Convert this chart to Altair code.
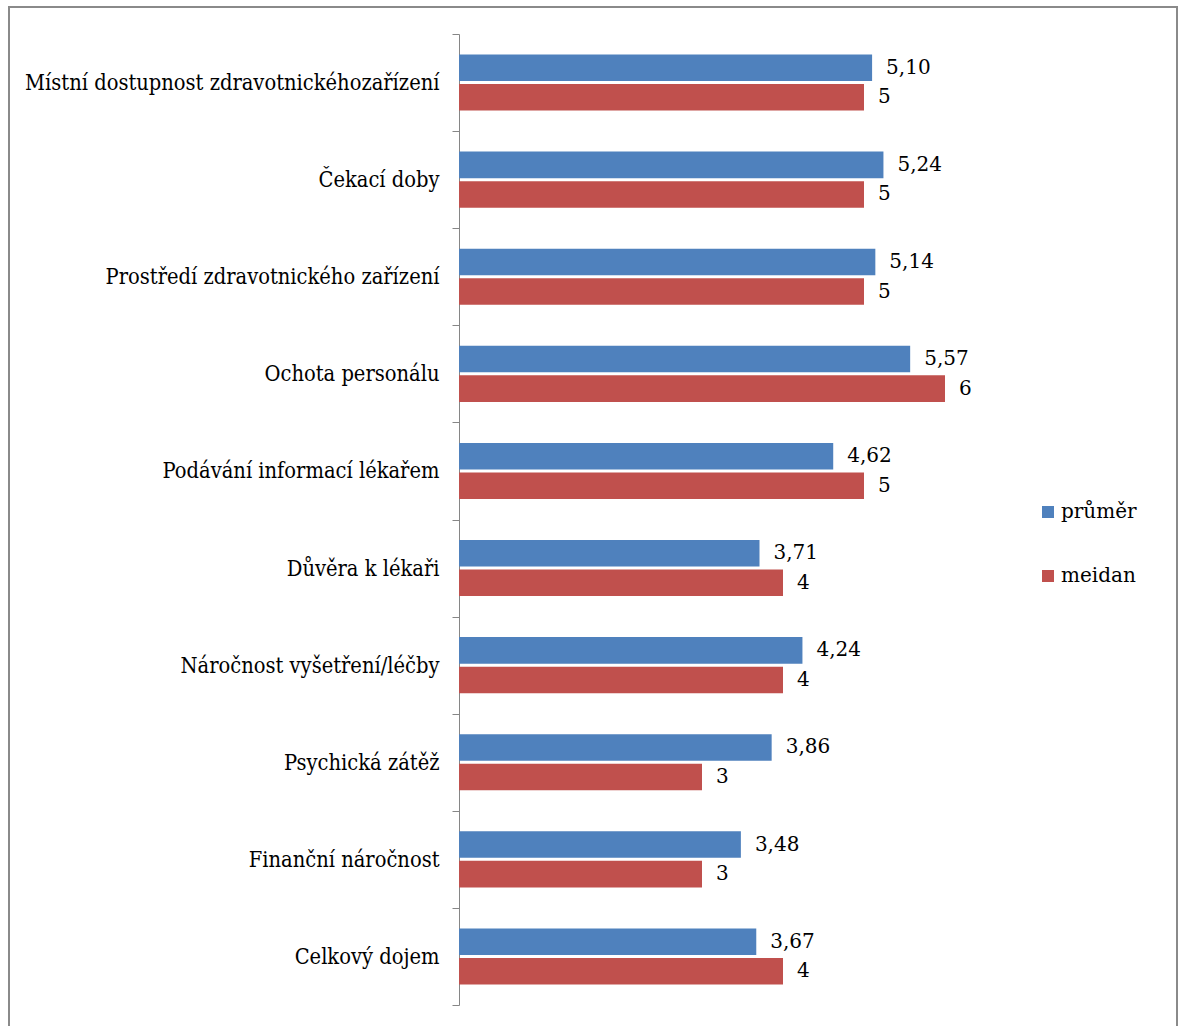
import altair as alt
import pandas as pd

categories = [
    "Místní dostupnost zdravotnickéhozařízení",
    "Čekací doby",
    "Prostředí zdravotnického zařízení",
    "Ochota personálu",
    "Podávání informací lékařem",
    "Důvěra k lékaři",
    "Náročnost vyšetření/léčby",
    "Psychická zátěž",
    "Finanční náročnost",
    "Celkový dojem",
]
prumer = [5.10, 5.24, 5.14, 5.57, 4.62, 3.71, 4.24, 3.86, 3.48, 3.67]
median = [5, 5, 5, 6, 5, 4, 4, 3, 3, 4]
series = ["průměr", "meidan"]
colors = ["#4F81BD", "#C0504D"]

rows = []
for c, p, m in zip(categories, prumer, median):
    rows.append({"cat": c, "serie": series[0], "val": p, "lab": f"{p:.2f}".replace(".", ",")})
    rows.append({"cat": c, "serie": series[1], "val": m, "lab": f"{m}"})
df = pd.DataFrame(rows)

FONT = "DejaVu Serif Condensed"
FONT2 = "DejaVu Serif"
FS = 21.7
FS2 = 20

y_enc = alt.Y(
    "cat:N",
    sort=categories,
    title=None,
    scale=alt.Scale(paddingInner=0, paddingOuter=0),
    axis=alt.Axis(
        tickBand="extent",
        tickSize=7,
        tickColor="#868686",
        domainColor="#868686",
        labelFont=FONT,
        labelFontSize=FS,
        labelColor="black",
        labelPadding=13,
        labelLimit=600,
    ),
)
yoff = alt.YOffset("serie:N", sort=series, scale=alt.Scale(paddingInner=0.1, paddingOuter=0.695))
x_enc = alt.X("val:Q", axis=None, scale=alt.Scale(domain=[0, 7]))

base = alt.Chart(df)

bars = base.mark_bar().encode(
    y=y_enc,
    yOffset=yoff,
    x=x_enc,
    color=alt.Color(
        "serie:N",
        sort=series,
        scale=alt.Scale(domain=series, range=colors),
        legend=alt.Legend(
            title=None,
            orient="none",
            legendX=579,
            legendY=468,
            symbolType="square",
            symbolSize=144,
            symbolStrokeWidth=0,
            labelFont=FONT2,
            labelFontSize=FS2,
            labelColor="black",
            labelOffset=3,
            rowPadding=44,
        ),
    ),
)

texts = base.mark_text(align="left", baseline="middle", dx=14, font=FONT2, fontSize=FS2, color="black").encode(
    y=alt.Y("cat:N", sort=categories),
    yOffset=yoff,
    x=x_enc,
    text="lab:N",
)

frame = alt.Chart(pd.DataFrame({"a": [0]})).mark_rect(
    fill=None, stroke="#8a8a8a", strokeWidth=2
).encode(
    x=alt.value(-450), x2=alt.value(718), y=alt.value(-27), y2=alt.value(1010)
)

chart = alt.layer(frame, bars, texts).properties(
    width=567,
    height=971,
    autosize=alt.AutoSizeParams(type="none"),
    padding={"left": 459, "top": 34, "right": 153, "bottom": 21},
).configure(background="white", view=alt.ViewConfig(stroke=None))

chart.save("out.html", embed_options={"renderer": "svg", "actions": False})
